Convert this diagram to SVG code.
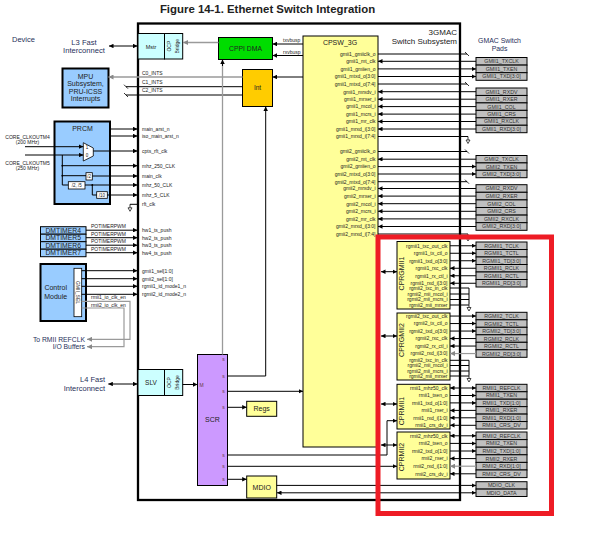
<svg xmlns="http://www.w3.org/2000/svg" width="598" height="535" viewBox="0 0 598 535">
<defs>
<style>
text{font-family:"Liberation Sans",Arial,Helvetica,sans-serif;fill:#222}
.t5{font-size:5px}
.t7{font-size:7px}
.e{text-anchor:end}
.m{text-anchor:middle}
.nv{fill:#27305a}
.w{fill:none;stroke:#000;stroke-width:1}
.gy{fill:none;stroke:#9a9a9a;stroke-width:1.4}
.a{marker-end:url(#ah)}
.aa{marker-start:url(#ah);marker-end:url(#ah)}
.ga{marker-end:url(#ahg)}
.blu{fill:#99CCFF;stroke:#000;stroke-width:2}
.cy{fill:#CCFFFF;stroke:#000;stroke-width:1}
.yl{fill:#FFFF99;stroke:#000;stroke-width:1}
.wh{fill:#fff;stroke:#000;stroke-width:0.8}
.pd rect{fill:#C0C0C0;stroke:#000;stroke-width:1}
.pd text{font-size:5.3px;text-anchor:middle;fill:#333}
.sp{font-size:5px;fill:#6a3b3b;text-anchor:middle}
</style>
<marker id="ah" viewBox="0 0 8 8" refX="8" refY="4" markerWidth="4.5" markerHeight="4.5" markerUnits="userSpaceOnUse" orient="auto-start-reverse"><path d="M0,0L8,4L0,8z" fill="#000"/></marker>
<marker id="ahg" viewBox="0 0 8 8" refX="8" refY="4" markerWidth="5" markerHeight="5" markerUnits="userSpaceOnUse" orient="auto-start-reverse"><path d="M0,0L8,4L0,8z" fill="#888"/></marker>
<g id="gnd"><path d="M0,0V3.5" stroke="#000" stroke-width="0.8" fill="none"/><path d="M-2,3.5H2L0,7Z" fill="#fff" stroke="#000" stroke-width="0.7"/></g>
<path id="tk" d="M-2,-2L2,2" stroke="#000" stroke-width="0.8"/>
</defs>

<rect width="598" height="535" fill="#fff"/>

<text x="267.5" y="13" style="font-size:11.4px;font-weight:bold" class="m" fill="#000">Figure 14-1. Ethernet Switch Integration</text>

<g id="subsystem">
<rect x="138" y="23.5" width="322" height="476.5" fill="none" stroke="#000" stroke-width="2.3"/>
<text x="457" y="35" class="e" style="font-size:8px">3GMAC</text>
<text x="457" y="43.5" class="e" style="font-size:8px">Switch Subsystem</text>
</g>

<g id="labels-outside">
<text x="12" y="42" class="nv" style="font-size:7.5px">Device</text>
<text x="84" y="45.3" class="m nv" style="font-size:7.6px">L3 Fast</text>
<text x="84" y="53.3" class="m nv" style="font-size:7.6px">Interconnect</text>
<text x="499.5" y="43" class="m nv" style="font-size:6.9px">GMAC Switch</text>
<text x="499.5" y="50.5" class="m nv" style="font-size:6.9px">Pads</text>
<text x="105" y="381.8" class="e nv" style="font-size:7.5px">L4 Fast</text>
<text x="105" y="390.8" class="e nv" style="font-size:7.5px">Interconnect</text>
<text x="85" y="341.8" class="e nv" style="font-size:6.8px">To RMII REFCLK</text>
<text x="85" y="348.8" class="e nv" style="font-size:6.8px">I/O Buffers</text>
<text x="27.5" y="138.5" class="m t5">CORE_CLKOUTM4</text>
<text x="27.5" y="143.5" class="m t5">(200 MHz)</text>
<text x="27.5" y="165" class="m t5">CORE_CLKOUTM5</text>
<text x="27.5" y="170" class="m t5">(250 MHz)</text>
</g>

<g id="mstr">
<rect x="138" y="33.5" width="26.5" height="25.5" class="cy"/>
<text x="151" y="48.5" class="m" style="font-size:5.5px">Mstr</text>
<rect x="164.5" y="33.5" width="18.2" height="25.5" class="cy"/>
<text transform="translate(171,46.2) rotate(-90)" class="m t5">OCP</text>
<text transform="translate(178.5,46.2) rotate(-90)" class="m t5">Bridge</text>
</g>

<g id="slv">
<rect x="138" y="369.5" width="26.5" height="26" class="cy"/>
<text x="151" y="384.8" class="m" style="font-size:6.5px">SLV</text>
<rect x="164.5" y="369.5" width="18.2" height="26" class="cy"/>
<text transform="translate(171,382.5) rotate(-90)" class="m t5">OCP</text>
<text transform="translate(178.5,382.5) rotate(-90)" class="m t5">Bridge</text>
</g>

<g id="cppi-dma">
<rect x="218.5" y="37.5" width="54" height="22" fill="#00DD00" stroke="#000" stroke-width="1"/>
<text x="245.5" y="51" class="m" style="font-size:6.8px">CPPI DMA</text>
</g>

<g id="int">
<rect x="242.5" y="69.5" width="30" height="37" fill="#FFCC00" stroke="#000" stroke-width="1"/>
<text x="257.5" y="90.2" class="m" style="font-size:6.5px">Int</text>
</g>

<g id="mpu">
<rect x="62.5" y="68.5" width="46" height="39" class="blu"/>
<text x="85.5" y="78.5" class="m t7">MPU</text>
<text x="85.5" y="86" class="m t7">Subsystem,</text>
<text x="85.5" y="93.5" class="m t7">PRU-ICSS</text>
<text x="85.5" y="101.2" class="m t7">Interrupts</text>
</g>

<g id="prcm">
<rect x="54.5" y="121.5" width="55.5" height="82.5" class="blu"/>
<text x="82.5" y="130.5" class="m t7">PRCM</text>
<path d="M83.3,142.7L93.3,148V156L83.3,161Z" class="wh"/>
<text x="85.8" y="149" class="t5" style="font-size:4.5px">1</text>
<text x="85.8" y="157" class="t5" style="font-size:4.5px">0</text>
<rect x="86" y="172.7" width="6.3" height="7.3" class="wh"/>
<text x="89.2" y="178.2" class="m" style="font-size:4.5px">/2</text>
<rect x="68.3" y="181.7" width="16.7" height="7.3" class="wh"/>
<text x="76.7" y="187.2" class="m" style="font-size:4.5px">/2, /5</text>
<rect x="96.7" y="191.7" width="10.6" height="6.6" class="wh"/>
<text x="102" y="196.8" class="m" style="font-size:4.5px">/10</text>
<circle cx="62.3" cy="165.7" r="0.9" fill="#000"/>
<circle cx="62.3" cy="175.7" r="0.9" fill="#000"/>
<circle cx="92.3" cy="185" r="0.9" fill="#000"/>
</g>

<g id="dmtimers">
<rect x="40.5" y="226.7" width="45.5" height="7.5" class="blu" style="stroke-width:1"/>
<rect x="40.5" y="234.2" width="45.5" height="7.5" class="blu" style="stroke-width:1"/>
<rect x="40.5" y="241.7" width="45.5" height="7.5" class="blu" style="stroke-width:1"/>
<rect x="40.5" y="249.2" width="45.5" height="7.5" class="blu" style="stroke-width:1"/>
<text x="63.2" y="232.9" class="m" style="font-size:6.8px">DMTIMER4</text>
<text x="63.2" y="240.4" class="m" style="font-size:6.8px">DMTIMER5</text>
<text x="63.2" y="247.9" class="m" style="font-size:6.8px">DMTIMER6</text>
<text x="63.2" y="255.4" class="m" style="font-size:6.8px">DMTIMER7</text>
</g>

<g id="control-module">
<rect x="40.5" y="264" width="45.5" height="57" class="blu"/>
<text x="55.7" y="289.8" class="m t7">Control</text>
<text x="55.7" y="298.5" class="m t7">Module</text>
<rect x="74" y="268.3" width="7.7" height="48.4" class="wh"/>
<text transform="translate(76,292.5) rotate(90)" class="m t5">GMII_SEL</text>
</g>

<g id="cpsw-3g">
<rect x="303" y="36" width="75" height="411" class="yl"/>
<text x="340" y="45.2" class="m t7">CPSW_3G</text>
<g class="t5 e">
<text x="375.5" y="55.8">gmii1_gmiiclk_o</text>
<text x="375.5" y="63.1">gmii1_mt_clk</text>
<text x="375.5" y="70.7">gmii1_gmiien_o</text>
<text x="375.5" y="78.3">gmii1_mtxd_o[3:0]</text>
<text x="375.5" y="85.8">gmii1_mtxd_o[7:4]</text>
<text x="375.5" y="93.5">gmii1_mrxdv_i</text>
<text x="375.5" y="101">gmii1_mrxer_i</text>
<text x="375.5" y="108.4">gmii1_mcol_i</text>
<text x="375.5" y="115.9">gmii1_mcrs_i</text>
<text x="375.5" y="123.3">gmii1_mr_clk</text>
<text x="375.5" y="130.8">gmii1_mrxd_i[3:0]</text>
<text x="375.5" y="138.3">gmii1_mrxd_i[7:4]</text>
<text x="375.5" y="153.3">gmii2_gmiiclk_o</text>
<text x="375.5" y="161">gmii2_mt_clk</text>
<text x="375.5" y="168.4">gmii2_gmiien_o</text>
<text x="375.5" y="175.8">gmii2_mtxd_o[3:0]</text>
<text x="375.5" y="183.5">gmii2_mtxd_o[7:4]</text>
<text x="375.5" y="190.3">gmii2_mrxdv_i</text>
<text x="375.5" y="197.9">gmii2_mrxer_i</text>
<text x="375.5" y="205.5">gmii2_mcol_i</text>
<text x="375.5" y="213.1">gmii2_mcrs_i</text>
<text x="375.5" y="220.7">gmii2_mr_clk</text>
<text x="375.5" y="228.3">gmii2_mrxd_i[3:0]</text>
<text x="375.5" y="235.8">gmii2_mrxd_i[7:4]</text>
</g>
</g>

<g id="scr">
<rect x="197.5" y="354.5" width="30" height="131" fill="#CC99FF" stroke="#000" stroke-width="1"/>
<text x="212.5" y="421.5" class="m t7">SCR</text>
<text x="201.7" y="386.8" class="sp">M</text>
<text x="223.5" y="360.5" class="sp">s</text>
<text x="223.5" y="377.5" class="sp">s</text>
<text x="223.5" y="392.8" class="sp">s</text>
<text x="223.5" y="408.8" class="sp">s</text>
<text x="223.5" y="456.5" class="sp">s</text>
<text x="223.5" y="467.8" class="sp">s</text>
<text x="223.5" y="480.8" class="sp">s</text>
</g>

<g id="regs">
<rect x="246.7" y="401.3" width="30" height="15" class="yl"/>
<text x="261.7" y="411.3" class="m t7">Regs</text>
</g>

<g id="mdio">
<rect x="246.7" y="476" width="30" height="22" class="yl"/>
<text x="261.7" y="489.5" class="m t7">MDIO</text>
</g>

<g id="cprgmii1">
<rect x="397" y="241.5" width="53" height="67.5" class="yl"/>
<text transform="translate(403.5,273.5) rotate(-90)" class="m t7">CPRGMII1</text>
<g class="t5 e">
<text x="447.5" y="247.5">rgmii1_txc_out_clk</text>
<text x="447.5" y="255">rgmii1_tx_ctl_o</text>
<text x="447.5" y="262.5">rgmii1_txd_o[3:0]</text>
<text x="447.5" y="270">rgmii1_rxc_clk</text>
<text x="447.5" y="277.5">rgmii1_rx_ctl_i</text>
<text x="447.5" y="285">rgmii1_rxd_i[3:0]</text>
<text x="447.5" y="289.8">rgmii2_txc_in_clk</text>
<text x="447.5" y="295.8">rgmii2_mii_mcol_i</text>
<text x="447.5" y="301.3">rgmii2_mii_mcrs_i</text>
<text x="447.5" y="306.8">rgmii2_mii_mrxer</text>
</g>
</g>

<g id="cprgmii2">
<rect x="397" y="313" width="53" height="67" class="yl"/>
<text transform="translate(403.5,340) rotate(-90)" class="m t7">CPRGMII2</text>
<g class="t5 e">
<text x="447.5" y="317.8">rgmii2_txc_out_clk</text>
<text x="447.5" y="325.3">rgmii2_tx_ctl_o</text>
<text x="447.5" y="332.8">rgmii2_txd_o[3:0]</text>
<text x="447.5" y="340.3">rgmii2_rxc_clk</text>
<text x="447.5" y="347.8">rgmii2_rx_ctl_i</text>
<text x="447.5" y="355.3">rgmii2_rxd_i[3:0]</text>
<text x="447.5" y="362">rgmii2_txc_in_clk</text>
<text x="447.5" y="367.3">rgmii2_mii_mcol_i</text>
<text x="447.5" y="372.8">rgmii2_mii_mcrs_i</text>
<text x="447.5" y="377.8">rgmii2_mii_mrxer</text>
</g>
</g>

<g id="cprmii1">
<rect x="397" y="384.3" width="53" height="44.7" class="yl"/>
<text transform="translate(403.5,411) rotate(-90)" class="m t7">CPRMII1</text>
<g class="t5 e">
<text x="447.5" y="389.8">rmii1_mhz50_clk</text>
<text x="447.5" y="397.3">rmii1_txen_o</text>
<text x="447.5" y="404.7">rmii1_txd_o[1:0]</text>
<text x="447.5" y="412.2">rmii1_rxer_i</text>
<text x="447.5" y="419.6">rmii1_rxd_i[1:0]</text>
<text x="447.5" y="427.1">rmii1_crs_dv_i</text>
</g>
</g>

<g id="cprmii2">
<rect x="397" y="432" width="53" height="47" class="yl"/>
<text transform="translate(403.5,457) rotate(-90)" class="m t7">CPRMII2</text>
<g class="t5 e">
<text x="447.5" y="437.6">rmii2_mhz50_clk</text>
<text x="447.5" y="445.2">rmii2_txen_o</text>
<text x="447.5" y="452.8">rmii2_txd_o[1:0]</text>
<text x="447.5" y="460.4">rmii2_rxer_i</text>
<text x="447.5" y="468">rmii2_rxd_i[1:0]</text>
<text x="447.5" y="475.6">rmii2_crs_dv_i</text>
</g>
</g>

<g id="pads" class="pd">
<rect x="476" y="57.5" width="51" height="7.6"/><text x="501.5" y="63.2">GMII1_TXCLK</text>
<rect x="476" y="65.1" width="51" height="7.6"/><text x="501.5" y="70.8">GMII1_TXEN</text>
<rect x="476" y="72.7" width="51" height="7.6"/><text x="501.5" y="78.4">GMII1_TXD[3:0]</text>
<rect x="476" y="88" width="51" height="7.45"/><text x="501.5" y="93.6">GMII1_RXDV</text>
<rect x="476" y="95.45" width="51" height="7.45"/><text x="501.5" y="101.1">GMII1_RXER</text>
<rect x="476" y="102.9" width="51" height="7.45"/><text x="501.5" y="108.5">GMII1_COL</text>
<rect x="476" y="110.35" width="51" height="7.45"/><text x="501.5" y="116">GMII1_CRS</text>
<rect x="476" y="117.8" width="51" height="7.45"/><text x="501.5" y="123.4">GMII1_RXCLK</text>
<rect x="476" y="125.25" width="51" height="7.45"/><text x="501.5" y="130.9">GMII1_RXD[3:0]</text>
<rect x="476" y="155.5" width="51" height="7.4"/><text x="501.5" y="161.1">GMII2_TXCLK</text>
<rect x="476" y="162.9" width="51" height="7.4"/><text x="501.5" y="168.5">GMII2_TXEN</text>
<rect x="476" y="170.3" width="51" height="7.4"/><text x="501.5" y="175.9">GMII2_TXD[3:0]</text>
<rect x="476" y="184.7" width="51" height="7.6"/><text x="501.5" y="190.4">GMII2_RXDV</text>
<rect x="476" y="192.3" width="51" height="7.6"/><text x="501.5" y="198">GMII2_RXER</text>
<rect x="476" y="199.9" width="51" height="7.6"/><text x="501.5" y="205.6">GMII2_COL</text>
<rect x="476" y="207.5" width="51" height="7.6"/><text x="501.5" y="213.2">GMII2_CRS</text>
<rect x="476" y="215.1" width="51" height="7.6"/><text x="501.5" y="220.8">GMII2_RXCLK</text>
<rect x="476" y="222.7" width="51" height="7.6"/><text x="501.5" y="228.4">GMII2_RXD[3:0]</text>
<rect x="476" y="242" width="51" height="7.5"/><text x="501.5" y="247.65">RGMII1_TCLK</text>
<rect x="476" y="249.5" width="51" height="7.5"/><text x="501.5" y="255.15">RGMII1_TCTL</text>
<rect x="476" y="257" width="51" height="7.5"/><text x="501.5" y="262.65">RGMII1_TD[3:0]</text>
<rect x="476" y="264.5" width="51" height="7.5"/><text x="501.5" y="270.15">RGMII1_RCLK</text>
<rect x="476" y="272" width="51" height="7.5"/><text x="501.5" y="277.65">RGMII1_RCTL</text>
<rect x="476" y="279.5" width="51" height="7.5"/><text x="501.5" y="285.15">RGMII1_RD[3:0]</text>
<rect x="476" y="312.3" width="51" height="7.5"/><text x="501.5" y="318">RGMII2_TCLK</text>
<rect x="476" y="319.8" width="51" height="7.5"/><text x="501.5" y="325.5">RGMII2_TCTL</text>
<rect x="476" y="327.3" width="51" height="7.5"/><text x="501.5" y="333">RGMII2_TD[3:0]</text>
<rect x="476" y="334.8" width="51" height="7.5"/><text x="501.5" y="340.5">RGMII2_RCLK</text>
<rect x="476" y="342.3" width="51" height="7.5"/><text x="501.5" y="348">RGMII2_RCTL</text>
<rect x="476" y="349.8" width="51" height="7.5"/><text x="501.5" y="355.5">RGMII2_RD[3:0]</text>
<rect x="476" y="384.3" width="51" height="7.45"/><text x="501.5" y="389.9">RMII1_REFCLK</text>
<rect x="476" y="391.75" width="51" height="7.45"/><text x="501.5" y="397.4">RMII1_TXEN</text>
<rect x="476" y="399.2" width="51" height="7.45"/><text x="501.5" y="404.8">RMII1_TXD[1:0]</text>
<rect x="476" y="406.65" width="51" height="7.45"/><text x="501.5" y="412.3">RMII1_RXER</text>
<rect x="476" y="414.1" width="51" height="7.45"/><text x="501.5" y="419.7">RMII1_RXD[1:0]</text>
<rect x="476" y="421.55" width="51" height="7.45"/><text x="501.5" y="427.2">RMII1_CRS_DV</text>
<rect x="476" y="432" width="51" height="7.6"/><text x="501.5" y="437.7">RMII2_REFCLK</text>
<rect x="476" y="439.6" width="51" height="7.6"/><text x="501.5" y="445.3">RMII2_TXEN</text>
<rect x="476" y="447.2" width="51" height="7.6"/><text x="501.5" y="452.9">RMII2_TXD[1:0]</text>
<rect x="476" y="454.8" width="51" height="7.6"/><text x="501.5" y="460.5">RMII2_RXER</text>
<rect x="476" y="462.4" width="51" height="7.6"/><text x="501.5" y="468.1">RMII2_RXD[1:0]</text>
<rect x="476" y="470" width="51" height="7.6"/><text x="501.5" y="475.7">RMII2_CRS_DV</text>
<rect x="476" y="481.7" width="51" height="7.4"/><text x="501.5" y="487.3">MDIO_CLK</text>
<rect x="476" y="489.1" width="51" height="7.4"/><text x="501.5" y="494.7">MDIO_DATA</text>
</g>

<g id="connectors">
<!-- left side -->
<path d="M109,46H137.5" class="w aa"/>
<path d="M218.5,42.5H183" class="gy ga"/>
<path d="M303,44H272.5" class="w a"/>
<path d="M303,55.5H272.5" class="w a"/>
<text x="283" y="42" class="t5">txvbusp</text>
<text x="283" y="53.5" class="t5">rxvbusp</text>
<path d="M303,77H272.5" class="w a"/>
<path d="M242.5,77H108.5" class="gy ga"/>
<path d="M242.5,86.7H126" class="w"/>
<use href="#tk" x="126" y="86.7"/>
<path d="M242.5,95H126" class="w"/>
<use href="#tk" x="126" y="95"/>
<text x="142" y="74.5" class="t5">C0_INTS</text>
<text x="142" y="83.8" class="t5">C1_INTS</text>
<text x="142" y="92.3" class="t5">C2_INTS</text>

<path d="M110,129H137.5" class="w a"/>
<path d="M110,136H137.5" class="w a"/>
<path d="M25,146.7H83.3" class="w a"/>
<path d="M25,155H83.3" class="w a"/>
<path d="M93.3,151H137.5" class="w a"/>
<path d="M62.3,155V185H68.3" class="w"/>
<path d="M62.3,165.7H137.5" class="w a"/>
<path d="M62.3,175.7H86" class="w"/>
<path d="M92.3,176H137.5" class="w a"/>
<path d="M85,185H137.5" class="w a"/>
<path d="M92.3,185V195H96.7" class="w"/>
<path d="M107.3,195H137.5" class="w a"/>
<path d="M138,204.3H130" class="w"/>
<use href="#gnd" x="130" y="204.3"/>
<g class="t5">
<text x="142" y="131">main_arst_n</text>
<text x="142" y="138">iso_main_arst_n</text>
<text x="142" y="153">cpts_rft_clk</text>
<text x="142" y="167.7">mhz_250_CLK</text>
<text x="142" y="177.7">main_clk</text>
<text x="142" y="187">mhz_50_CLK</text>
<text x="142" y="197">mhz_5_CLK</text>
<text x="142" y="206">rft_clk</text>
</g>

<path d="M86,230.2H137.5" class="w a"/>
<path d="M86,237.7H137.5" class="w a"/>
<path d="M86,245.2H137.5" class="w a"/>
<path d="M86,252.7H137.5" class="w a"/>
<g class="t5">
<text x="91" y="228">POTIMERPWM</text>
<text x="91" y="235.5">POTIMERPWM</text>
<text x="91" y="243">POTIMERPWM</text>
<text x="91" y="250.5">POTIMERPWM</text>
<text x="142" y="232">hw1_ts_push</text>
<text x="142" y="239.5">hw2_ts_push</text>
<text x="142" y="247">hw3_ts_push</text>
<text x="142" y="254.5">hw4_ts_push</text>
</g>

<path d="M81.7,270.7H137.5" class="w a"/>
<path d="M81.7,278.7H137.5" class="w a"/>
<path d="M81.7,286.3H137.5" class="w a"/>
<path d="M81.7,294.3H137.5" class="w a"/>
<g class="t5">
<text x="142" y="272.5">gmii1_sel[1:0]</text>
<text x="142" y="280.5">gmii2_sel[1:0]</text>
<text x="142" y="288.1">rgmii1_id_mode1_n</text>
<text x="142" y="296.1">rgmii2_id_mode2_n</text>
<text x="91" y="299.3">rmii1_io_clk_en</text>
<text x="91" y="306.5">rmii2_io_clk_en</text>
</g>
<path d="M81.7,301.3H130V339.3H87" class="gy ga" style="stroke-width:1.2"/>
<path d="M81.7,308H124V346.7H87" class="gy ga" style="stroke-width:1.2"/>

<path d="M108.3,384H137.5" class="w aa"/>
<path d="M182.7,384.5H197.3" class="w a"/>

<!-- SCR -->
<path d="M222.5,354.5V60" class="gy" style="stroke-width:1.3"/>
<path d="M222.5,66V59.5" class="w a"/>
<path d="M227.5,376H265.7V106.5" class="w a"/>
<path d="M227.5,391.3H303" class="w a"/>
<path d="M227.5,407.3H246.7" class="w a"/>
<path d="M227.5,455H387V420.7H397" class="w a"/>
<path d="M227.5,466.3H397" class="w a"/>
<path d="M227.5,479.3H246.7" class="w a"/>

<!-- CPSW to pads -->
<path d="M378,54H467" class="w"/><use href="#tk" x="467" y="54"/>
<path d="M476,61.3H378" class="w a"/>
<path d="M378,68.9H476" class="w a"/>
<path d="M378,76.5H476" class="w a"/>
<path d="M378,84H467" class="w"/><use href="#tk" x="467" y="84"/>
<path d="M476,91.7H378" class="w a"/>
<path d="M476,99.2H378" class="w a"/>
<path d="M476,106.6H378" class="w a"/>
<path d="M476,114.1H378" class="w a"/>
<path d="M476,121.5H378" class="w a"/>
<path d="M476,129H378" class="w a"/>
<path d="M378,136.5H468" class="w"/><use href="#gnd" x="468" y="136.5"/>
<path d="M378,151.5H467" class="w"/><use href="#tk" x="467" y="151.5"/>
<path d="M476,159.2H378" class="w a"/>
<path d="M378,166.6H476" class="w a"/>
<path d="M378,174H476" class="w a"/>
<path d="M378,181.7H467" class="w"/><use href="#tk" x="467" y="181.7"/>
<path d="M476,188.5H378" class="w a"/>
<path d="M476,196.1H378" class="w a"/>
<path d="M476,203.7H378" class="w a"/>
<path d="M476,211.3H378" class="w a"/>
<path d="M476,218.9H378" class="w a"/>
<path d="M476,226.5H378" class="w a"/>
<path d="M378,234H468" class="w"/><use href="#gnd" x="468" y="234"/>

<!-- CPSW to CP blocks -->
<path d="M381,271.7H397" class="w aa"/>
<path d="M381,336H397" class="w aa"/>
<path d="M381,404H397" class="w aa"/>
<path d="M381,445H397" class="w aa"/>

<!-- CP blocks to pads -->
<path d="M450,245.75H476" class="w a"/>
<path d="M450,253.25H476" class="w a"/>
<path d="M450,260.75H476" class="w a"/>
<path d="M476,268.25H450" class="w a"/>
<path d="M476,275.75H450" class="w a"/>
<path d="M476,283.25H450" class="w a"/>
<path d="M450,288H469M450,294H469M450,299.5H469M450,305H469M469,288V304" class="w"/>
<use href="#gnd" x="469" y="304"/>

<path d="M450,316.05H476" class="w a"/>
<path d="M450,323.55H476" class="w a"/>
<path d="M450,331.05H476" class="w a"/>
<path d="M476,338.55H450" class="w a"/>
<path d="M476,346.05H450" class="w a"/>
<path d="M476,353.55H450" class="gy ga" style="stroke-width:1.2"/>
<path d="M450,360.3H469M450,365.5H469M450,371H469M450,376H469M469,360.3V375" class="w"/>
<use href="#gnd" x="469" y="375"/>

<path d="M450,388H476" class="w aa"/>
<path d="M450,395.5H476" class="w a"/>
<path d="M450,402.9H476" class="w a"/>
<path d="M476,410.4H450" class="w a"/>
<path d="M476,417.8H450" class="w a"/>
<path d="M476,425.3H450" class="w a"/>

<path d="M450,435.8H476" class="w aa"/>
<path d="M450,443.4H476" class="w a"/>
<path d="M450,451H476" class="w a"/>
<path d="M476,458.6H450" class="w a"/>
<path d="M476,466.2H450" class="gy ga" style="stroke-width:1.2"/>
<path d="M476,473.8H450" class="w a"/>

<path d="M276.7,485.4H476" class="w a"/>
<path d="M277,492.8H476" class="w aa"/>
</g>

<g id="highlight">
<rect x="378" y="237" width="173.5" height="276.5" fill="none" stroke="#EE1C25" stroke-width="5"/>
</g>
</svg>
